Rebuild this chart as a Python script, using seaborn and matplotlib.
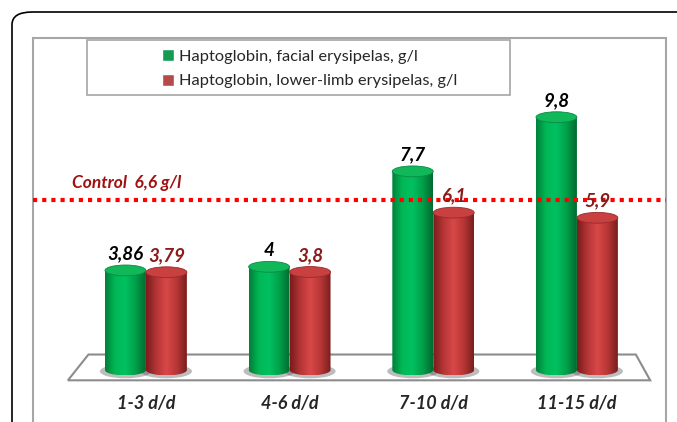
import numpy as np
import pandas as pd
import seaborn as sns
import matplotlib.pyplot as plt
from matplotlib.patches import Ellipse, Polygon, Rectangle, FancyBboxPatch, PathPatch
from matplotlib.path import Path
from matplotlib.colors import LinearSegmentedColormap

# Data
periods = ["1-3 d/d", "4-6 d/d", "7-10 d/d", "11-15 d/d"]
facial = [3.86, 4.0, 7.7, 9.8]
lower_limb = [3.79, 3.8, 6.1, 5.9]
control = 6.6
series_names = ["Haptoglobin, facial erysipelas, g/l",
                "Haptoglobin, lower-limb erysipelas, g/l"]

df = pd.DataFrame({"period": periods, series_names[0]: facial, series_names[1]: lower_limb})
long_df = df.melt(id_vars="period", var_name="series", value_name="value")

sns.set_style("white")
plt.rcParams["font.family"] = ["Lato", "DejaVu Sans"]

W, H = 677, 422
fig = plt.figure(figsize=(W / 100, H / 100), dpi=100)

# outer rounded frame, inner plot frame, legend box
fig.patches.append(FancyBboxPatch((12 / W, -0.1), 1.2, (H - 12) / H + 0.1,
                                  boxstyle="round,pad=0,rounding_size=0.03",
                                  transform=fig.transFigure, fill=False,
                                  edgecolor="black", lw=1.2))
fig.patches.append(Rectangle((33 / W, -0.1), (666 - 33) / W, (H - 38) / H + 0.1,
                             transform=fig.transFigure, fill=False,
                             edgecolor="#a6a6a6", lw=1.5))
fig.patches.append(Rectangle((87 / W, 1 - 95 / H), 423 / W, 55 / H,
                             transform=fig.transFigure, facecolor="white",
                             edgecolor="#a6a6a6", lw=1.2))

ax = fig.add_axes([33 / W, (H - 392) / H, (666 - 33) / W, (392 - 38) / H])
ax.set_zorder(2)
ax.patch.set_alpha(0)

green = "#00b050"
red = "#c8383a"
sns.barplot(data=long_df, x="period", y="value", hue="series",
            palette=[green, red], width=0.57, gap=0, ax=ax, zorder=2)

xlim = (-0.786, 3.62)
ylim = (-0.853, 12.87)
for s in ax.spines.values():
    s.set_visible(False)
ax.set_yticks([])
ax.set_xlabel("")
ax.set_ylabel("")
ax.tick_params(axis="x", length=0, pad=2)
for lab in ax.get_xticklabels():
    lab.set_fontsize(13)
    lab.set_fontweight("bold")
    lab.set_fontstyle("italic")

# legend
sns.move_legend(ax, "upper left", bbox_to_anchor=(0.18, 1.01), frameon=False,
                title=None, fontsize=11.8, handlelength=0.75, handleheight=0.75,
                handletextpad=0.3, labelspacing=0.6)

# floor
floor = Polygon([(-0.543, -0.4), (3.51, -0.4), (3.41, 0.6), (-0.40, 0.6)],
                closed=True, facecolor="white", edgecolor="#8c8c8c", lw=1.5, zorder=1)
ax.add_patch(floor)

# cylinder shading
cmaps = [
    LinearSegmentedColormap.from_list("g", ["#00803a", "#00b856", "#00c060", "#00a04a", "#006a30"]),
    LinearSegmentedColormap.from_list("r", ["#7a1c1c", "#b53535", "#d84848", "#b83636", "#7a1e1e"]),
]
tops = ["#10b85a", "#c84040"]
top_edges = ["#0a8a44", "#9a2a2a"]
label_colors = ["black", "#8b1a1a"]
eh = 0.42
grad = np.linspace(0, 1, 100).reshape(1, -1)

for i, cont in enumerate(ax.containers):
    for bar in cont:
        x0, w, h = bar.get_x(), bar.get_width(), bar.get_height()
        cx = x0 + w / 2
        bar.set_facecolor("none")
        bar.set_edgecolor("none")
        # shadow
        ax.add_patch(Ellipse((cx, -0.05), w * 1.25, eh * 1.3, facecolor="#444444",
                             alpha=0.35, edgecolor="none", zorder=1.5))
        t = np.linspace(np.pi, 2 * np.pi, 40)
        verts = [(cx + w / 2 * np.cos(a), eh / 2 * np.sin(a)) for a in t]
        verts += [(x0 + w, h), (x0, h), verts[0]]
        clip = PathPatch(Path(verts), transform=ax.transData, facecolor="none", edgecolor="none")
        ax.add_patch(clip)
        im = ax.imshow(grad, extent=[x0, x0 + w, -eh / 2, h], aspect="auto",
                       cmap=cmaps[i], zorder=2, interpolation="bicubic")
        im.set_clip_path(clip)
        ax.add_patch(Ellipse((cx, h), w, eh, facecolor=tops[i], edgecolor=top_edges[i],
                             lw=0.6, zorder=3))
        ax.annotate(f"{h:g}".replace(".", ","), (cx, h + eh / 2), xytext=(0, 2),
                    textcoords="offset points", ha="center", va="bottom",
                    fontsize=13.5, fontweight="bold", fontstyle="italic",
                    color=label_colors[i], zorder=5)

ax.set_xlim(*xlim)
ax.set_ylim(*ylim)

# control line
ax.axhline(control, color="#ff0000", ls=(0, (1, 1.2)), lw=3, zorder=4)
ax.annotate(f"Control  {control:g} g/l".replace(".", ","), (-0.515, control), xytext=(0, 6),
            textcoords="offset points", ha="left", va="bottom", fontsize=12.5,
            fontweight="bold", fontstyle="italic", color="#a01010")

fig.savefig("out.png", dpi=100)
